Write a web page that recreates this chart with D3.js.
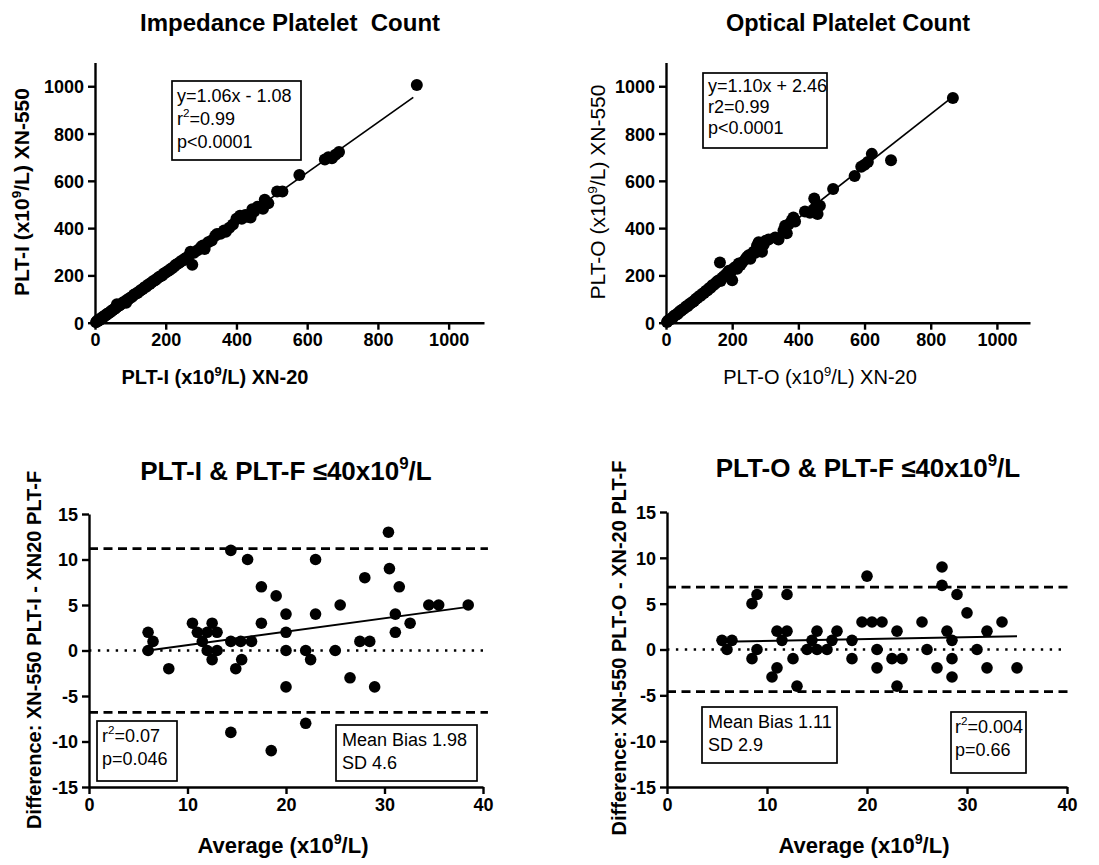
<!DOCTYPE html>
<html><head><meta charset="utf-8">
<script src="https://cdn.jsdelivr.net/npm/d3@7"></script>
<style>body{margin:0;background:#fff} svg{display:block} text{font-family:"Liberation Sans",Arial,Helvetica,sans-serif;fill:#000;white-space:pre}</style>
</head><body><svg id="c" width="1099" height="865"></svg>
<script>
// ---------------- DATA ----------------
const scatterTicks = [0, 200, 400, 600, 800, 1000];
const baTicksX = [0, 10, 20, 30, 40];
const baTicksY = [-15, -10, -5, 0, 5, 10, 15];

// Impedance: [XN-20, XN-550]
const impedancePoints = [[3,2],[5,6],[8,7],[10,12],[12,10],[15,14],[18,18],[20,22],[22,20],[25,26],[28,30],[30,31],[33,34],[35,38],[38,40],[40,42],[45,46],[48,52],[50,54],[55,58],[58,62],[60,64],[62,78],[65,70],[70,74],[75,80],[80,86],[85,90],[88,84],[90,96],[95,100],[100,106],[105,110],[110,118],[115,122],[120,126],[125,132],[130,138],[135,142],[140,150],[145,152],[150,160],[155,164],[160,170],[165,176],[170,180],[175,186],[180,192],[185,196],[190,200],[195,208],[200,212],[205,218],[210,222],[215,228],[220,232],[225,240],[230,246],[235,250],[240,256],[245,262],[250,264],[255,272],[260,276],[265,282],[270,300],[275,245],[280,296],[290,306],[300,320],[305,326],[310,312],[320,340],[330,348],[340,368],[345,375],[355,376],[365,390],[370,385],[380,402],[390,415],[400,440],[410,452],[415,440],[425,455],[430,448],[440,445],[445,480],[450,470],[460,490],[475,482],[480,520],[485,510],[490,505],[515,555],[530,555],[578,625],[650,690],[660,700],[670,695],[680,710],[690,722],[910,1005]];
const impedanceFit = [1.06, -1.08, 0, 900];   // slope, intercept, from, to

// Optical: [XN-20, XN-550]
const opticalPoints = [[3,3],[6,8],[10,12],[14,15],[18,20],[22,24],[26,30],[30,34],[34,36],[38,42],[42,48],[46,50],[50,56],[55,60],[60,68],[65,70],[70,78],[75,82],[80,88],[85,92],[90,100],[95,104],[100,112],[105,114],[110,122],[115,126],[120,134],[125,136],[130,146],[135,148],[140,158],[145,160],[150,168],[155,175],[160,180],[163,255],[165,176],[170,190],[175,196],[180,202],[185,210],[190,220],[195,212],[200,180],[205,230],[210,236],[215,228],[220,250],[225,244],[230,255],[240,268],[245,278],[250,285],[255,270],[260,292],[265,300],[270,296],[275,325],[280,340],[285,310],[290,300],[295,330],[300,345],[310,352],[330,360],[340,352],[355,390],[360,410],[365,378],[370,415],[380,432],[385,445],[390,428],[420,470],[435,465],[445,478],[448,525],[455,500],[458,460],[465,495],[505,565],[570,620],[590,660],[600,668],[610,680],[622,714],[680,687],[867,950]];
const opticalFit = [1.10, 2.46, 0, 870];

// Bland-Altman PLT-I vs PLT-F: [average, difference]
const baImpPoints = [[6.0,2],[6.5,1],[6.0,0],[8.1,-2],[10.5,3],[11.0,2],[11.5,1],[12.0,2],[12.5,3],[13.0,2],[12.0,0],[13.0,0],[12.5,-1],[14.4,1],[14.4,11],[14.4,-9],[15.4,1],[14.9,-2],[15.5,-1],[16.1,10],[16.5,1],[17.5,7],[17.5,3],[18.5,-11],[19.0,6],[20.0,4],[20.0,2],[20.0,0],[20.0,-4],[22.0,0],[22.5,-1],[22.0,-8],[23.0,10],[23.0,4],[25.0,0],[25.5,5],[26.5,-3],[27.5,1],[28.5,1],[28.0,8],[29.0,-4],[30.4,13],[30.5,9],[31.1,4],[31.1,2],[31.5,7],[32.6,3],[34.5,5],[35.5,5],[38.5,5]];
const baImpTrend = [[6.0, 0.0], [38.5, 4.8]];
const baImpLimits = [11.2, -6.8];

// Bland-Altman PLT-O vs PLT-F
const baOptPoints = [[5.5,1],[6.0,0],[6.5,1],[8.5,5],[9.0,6],[8.5,-1],[9.0,0],[10.5,-3],[11.0,-2],[11.0,2],[11.5,1],[12.0,2],[12.0,6],[12.6,-1],[13.0,-4],[14.0,0],[14.5,1],[15.0,2],[15.0,0],[16.0,0],[16.5,1],[17.0,2],[18.5,1],[18.5,-1],[19.5,3],[20.0,8],[20.5,3],[21.0,0],[21.0,-2],[21.5,3],[22.5,-1],[23.0,2],[23.0,-4],[23.5,-1],[25.5,3],[26.0,0],[27.0,-2],[27.5,9],[27.5,7],[28.0,2],[28.5,1],[28.5,-1],[28.5,-3],[29.0,6],[30.0,4],[31.0,0],[32.0,2],[32.0,-2],[33.5,3],[35.0,-2]];
const baOptTrend = [[5.5, 0.85], [35.0, 1.45]];
const baOptLimits = [6.8, -4.6];

// ---------------- DRAWING ----------------
const svg = d3.select("#c");
const FONT = '"Liberation Sans", Arial, Helvetica, sans-serif';

function label(parts, o) {
  const t = svg.append("text")
    .attr("font-size", o.size).attr("font-weight", o.weight || "bold")
    .attr("text-anchor", o.anchor || "middle").attr("font-family", FONT)
    .attr("xml:space", "preserve");
  if (o.rotate) t.attr("transform", `translate(${o.x},${o.y}) rotate(-90)`).attr("y", o.size * 0.35);
  else t.attr("x", o.x).attr("y", o.y);
  const pieces = parts.split(/(\^\w)/).filter(s => s.length);
  let wasSup = false;
  pieces.forEach(p => {
    if (p[0] === "^") {
      t.append("tspan").attr("font-size", o.size * 0.65).attr("dy", -o.size * 0.42).text(p.slice(1));
      wasSup = true;
    } else {
      const s = t.append("tspan").text(p);
      if (wasSup) s.attr("dy", o.size * 0.42);
      wasSup = false;
    }
  });
  return t;
}

function box(x0, y0, x1, y1, lines, size, lineH, pad) {
  svg.append("rect").attr("x", x0).attr("y", y0).attr("width", x1 - x0).attr("height", y1 - y0)
    .attr("fill", "#fff").attr("stroke", "#000").attr("stroke-width", 1.7);
  lines.forEach((l, i) => label(l, {x: x0 + pad, y: y0 + lineH * (i + 1) - 2, size: size, weight: "normal", anchor: "start"}));
}

function axes(x, y, xt, yt) {
  const fmt = d => String(d);
  const gx = svg.append("g").attr("transform", `translate(0,${y.range()[0]})`)
    .call(d3.axisBottom(x).tickValues(xt).tickFormat(fmt).tickSize(7).tickSizeOuter(0).tickPadding(4));
  const gy = svg.append("g").attr("transform", `translate(${x.range()[0]},0)`)
    .call(d3.axisLeft(y).tickValues(yt).tickFormat(fmt).tickSize(7).tickSizeOuter(0).tickPadding(4));
  [gx, gy].forEach(g => {
    g.attr("font-family", FONT).attr("font-size", 18).attr("font-weight", "bold");
    g.select(".domain").attr("stroke", "#000").attr("stroke-width", 2.4);
    g.selectAll(".tick line").attr("stroke", "#000").attr("stroke-width", 2.4);
    g.selectAll(".tick text").attr("fill", "#000");
  });
  gy.selectAll(".tick text").attr("dy", "0.36em");
}

function dots(x, y, pts, r) {
  svg.append("g").selectAll("circle").data(pts).join("circle")
    .attr("cx", d => x(d[0])).attr("cy", d => y(d[1])).attr("r", r).attr("fill", "#000");
}

// ---- Panel 1: Impedance ----
{
  const x = d3.scaleLinear().domain([0, 1100]).range([95, 484]);
  const y = d3.scaleLinear().domain([0, 1100]).range([322.7, 62.6]);
  const [m, b, a0, a1] = impedanceFit;
  svg.append("line").attr("x1", x(a0)).attr("y1", y(m * a0 + b)).attr("x2", x(a1)).attr("y2", y(m * a1 + b))
    .attr("stroke", "#000").attr("stroke-width", 1.7);
  dots(x, y, impedancePoints, 6);
  axes(x, y, scatterTicks, scatterTicks);
  box(172, 81, 301, 160, ["y=1.06x - 1.08", "r^2=0.99", "p<0.0001"], 18, 23, 5);
  label("Impedance Platelet  Count", {x: 290, y: 31, size: 24});
  label("PLT-I (x10^9/L) XN-550", {x: 22, y: 192, size: 21, rotate: true});
  label("PLT-I (x10^9/L) XN-20", {x: 215, y: 384, size: 20});
}

// ---- Panel 2: Optical ----
{
  const x = d3.scaleLinear().domain([0, 1100]).range([666, 1030]);
  const y = d3.scaleLinear().domain([0, 1100]).range([322.7, 62.6]);
  const [m, b, a0, a1] = opticalFit;
  svg.append("line").attr("x1", x(a0)).attr("y1", y(m * a0 + b)).attr("x2", x(a1)).attr("y2", y(m * a1 + b))
    .attr("stroke", "#000").attr("stroke-width", 1.7);
  dots(x, y, opticalPoints, 6);
  axes(x, y, scatterTicks, scatterTicks);
  box(703, 73, 827, 148, ["y=1.10x + 2.46", "r2=0.99", "p<0.0001"], 18, 21, 5);
  label("Optical Platelet Count", {x: 848, y: 31, size: 23.5});
  label("PLT-O (x10^9/L) XN-550", {x: 598, y: 192, size: 21, rotate: true, weight: "normal"});
  label("PLT-O (x10^9/L) XN-20", {x: 820, y: 384, size: 20, weight: "normal"});
}

function baPanel(x, y, pts, trend, limits) {
  const x0 = x.range()[0];
  svg.append("line").attr("x1", x(0)).attr("x2", x(40)).attr("y1", y(0)).attr("y2", y(0))
    .attr("stroke", "#000").attr("stroke-width", 2.4).attr("stroke-dasharray", "2.4,6.5");
  limits.forEach(v => svg.append("line").attr("x1", x0).attr("x2", x(40.5)).attr("y1", y(v)).attr("y2", y(v))
    .attr("stroke", "#000").attr("stroke-width", 2.8).attr("stroke-dasharray", "9,5.5"));
  svg.append("line").attr("x1", x(trend[0][0])).attr("y1", y(trend[0][1]))
    .attr("x2", x(trend[1][0])).attr("y2", y(trend[1][1])).attr("stroke", "#000").attr("stroke-width", 1.9);
  dots(x, y, pts, 5.8);
  axes(x, y, baTicksX, baTicksY);
}

// ---- Panel 3 ----
{
  const x = d3.scaleLinear().domain([0, 40]).range([89, 483]);
  const y = d3.scaleLinear().domain([-15, 15]).range([787, 514]);
  baPanel(x, y, baImpPoints, baImpTrend, baImpLimits);
  box(97, 721, 177, 781, ["r^2=0.07", "p=0.046"], 18, 23, 5);
  box(336, 725, 477, 781, ["Mean Bias 1.98", "SD 4.6"], 18, 23, 6);
  label("PLT-I & PLT-F \u226440x10^9/L", {x: 286, y: 480, size: 26});
  label("Difference: XN-550 PLT-I - XN20 PLT-F", {x: 34, y: 650, size: 20, rotate: true});
  label("Average (x10^9/L)", {x: 283, y: 853, size: 22});
}

// ---- Panel 4 ----
{
  const x = d3.scaleLinear().domain([0, 40]).range([667, 1067]);
  const y = d3.scaleLinear().domain([-15, 15]).range([787, 512]);
  baPanel(x, y, baOptPoints, baOptTrend, baOptLimits);
  box(702, 707, 837, 763, ["Mean Bias 1.11", "SD 2.9"], 18, 23, 6);
  box(951, 712, 1026, 773, ["r^2=0.004", "p=0.66"], 18, 23, 4);
  label("PLT-O & PLT-F \u226440x10^9/L", {x: 868, y: 477, size: 26});
  label("Difference: XN-550 PLT-O - XN-20 PLT-F", {x: 619, y: 648, size: 20, rotate: true});
  label("Average (x10^9/L)", {x: 864, y: 853, size: 22});
}
</script></body></html>
